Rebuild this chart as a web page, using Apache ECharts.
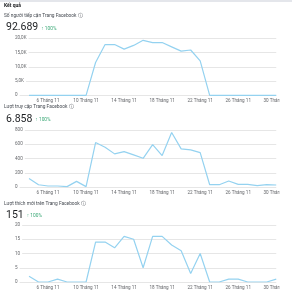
<!DOCTYPE html>
<html>
<head>
<meta charset="utf-8">
<style>
  html, body { margin: 0; padding: 0; background: #fff; }
  #chart-container { width: 292px; height: 300px; }
</style>
<script src="https://cdn.jsdelivr.net/npm/echarts@6/dist/echarts.min.js"></script>
</head>
<body>
<div id="chart-container"></div>
<script>
var dom = document.getElementById('chart-container');
var myChart = echarts.init(dom, null, { renderer: 'canvas' });

// ngày 4 -> 30 tháng 11
var days = [4, 5, 6, 7, 8, 9, 10, 11, 12, 13, 14, 15, 16, 17, 18, 19, 20, 21, 22, 23, 24, 25, 26, 27, 28, 29, 30];

var reach = [0, 0, 0, 0, 0, 0, 0, 11500, 17800, 17800, 16200, 17500, 19300, 18500, 18500, 17000, 15500, 15900, 12100, 0, 0, 0, 0, 0, 0, 0, 0];
var visits = [121, 32, 14, 14, 5, 79, 5, 624, 558, 465, 497, 450, 403, 596, 441, 765, 535, 521, 483, 32, 32, 84, 37, 37, 19, 32, 28];
var likes = [2, 0, 0, 1, 0, 0, 0, 14, 14, 12, 16, 15, 5, 16, 16, 13, 11, 3, 10, 0, 0, 1, 1, 0, 0, 0, 1];

var titles = ['Số người tiếp cận Trang Facebook', 'Lượt truy cập Trang Facebook', 'Lượt thích mới trên Trang Facebook'];
var totals = ['92.689', '6.858', '151'];
var changes = ['↑ 100%', '↑ 100%', '↑ 100%'];
var yMax = [20000, 800, 20];
var yStep = [5000, 200, 5];

var font = 'Roboto, "Noto Sans", sans-serif';
var lineColor = '#94d2f0';
var gridTops = [38.3, 130, 225];
var gridHeight = 57;
var subTitleY = [16, 107.5, 204];
var totalY = [28, 119.5, 215.5];
var bigFont = '10.5px ' + font;

var measure = document.createElement('canvas').getContext('2d');
measure.font = bigFont;

function yLabel(v, i) {
    if (i === 0) {
        if (v === 0) return '0';
        return (v / 1000).toFixed(1).replace('.', ',') + 'K';
    }
    return String(v);
}

var grids = [], xAxes = [], yAxes = [], series = [], graphics = [];
var allData = [reach, visits, likes];

graphics.push({
    type: 'rect', left: 0, top: 0,
    shape: { width: 292, height: 2 },
    style: { fill: '#e4e6eb' }
});
graphics.push({
    type: 'text', left: 4, top: 3,
    style: { text: 'Kết quả', font: 'bold 5px ' + font, fill: '#1c1e21' }
});

for (var i = 0; i < 3; i++) {
    grids.push({ left: 10, right: 14, top: gridTops[i], height: gridHeight });
    xAxes.push({
        type: 'value', gridIndex: i, min: 2, max: 30, interval: 4,
        axisLine: { show: false }, axisTick: { show: false }, splitLine: { show: false },
        axisLabel: {
            showMinLabel: false, margin: 3, fontSize: 4.6, color: '#65676b', fontFamily: font,
            formatter: function (v) { return v + ' Tháng 11'; }
        }
    });
    (function (k) {
        yAxes.push({
            type: 'value', gridIndex: k, min: 0, max: yMax[k], interval: yStep[k],
            axisLine: { show: false }, axisTick: { show: false },
            splitLine: { lineStyle: { color: '#e6e6e6', width: 1 } },
            axisLabel: {
                inside: true, align: 'left', margin: 0, fontSize: 4.6, color: '#65676b', fontFamily: font,
                backgroundColor: '#fff', padding: [1, 2, 1, 5],
                formatter: function (v) { return yLabel(v, k); }
            }
        });
    })(i);
    series.push({
        type: 'line', xAxisIndex: i, yAxisIndex: i,
        data: days.map(function (d, j) { return [d, allData[i][j]]; }),
        showSymbol: false, symbol: 'none',
        lineStyle: { color: lineColor, width: 1.2 }
    });
    graphics.push({
        type: 'text', left: 4, top: subTitleY[i] - 3,
        style: { text: titles[i] + ' ⓘ', font: '4.8px ' + font, fill: '#444950' }
    });
    graphics.push({
        type: 'text', left: 6, top: totalY[i] - 6,
        style: { text: totals[i], font: bigFont, fill: '#1c1e21' }
    });
    graphics.push({
        type: 'text', left: 6 + measure.measureText(totals[i]).width + 3, top: totalY[i] - 2,
        style: { text: changes[i], font: '4.8px ' + font, fill: '#3aa876' }
    });
    // nhãn cuối bị cắt ở mép phải của khung
    graphics.push({
        type: 'rect', left: 279.5, top: gridTops[i] + gridHeight + 1.5, z: 100, zlevel: 1,
        shape: { width: 13, height: 8 },
        style: { fill: '#fff' }
    });
}

var option = {
    animation: false,
    grid: grids,
    xAxis: xAxes,
    yAxis: yAxes,
    series: series,
    graphic: graphics
};

myChart.setOption(option);
window.addEventListener('resize', myChart.resize);
</script>
</body>
</html>
